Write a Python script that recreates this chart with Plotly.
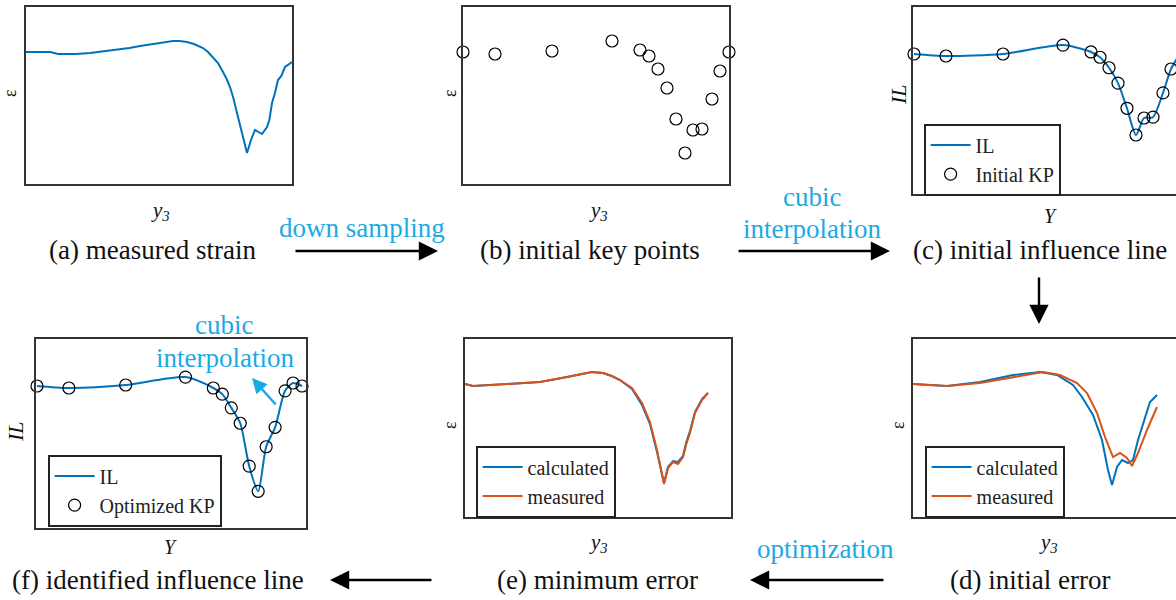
import plotly.graph_objects as go

W, H = 1176, 600
BLUE = "#0072BD"
ORANGE = "#D95319"
CYAN = "rgb(26,170,228)"
SERIF = "Liberation Serif, Times New Roman, serif"

# ---------------- data ----------------
# (a) measured strain
a_x = [0, 3.6, 4.8, 7.5, 9.6, 12, 13.65, 15.5, 17.1, 19.5, 21, 22.05, 23, 24.15, 25.2,
       26.55, 27.3, 28.05, 28.8, 29.55, 30.1, 30.6, 31.1, 31.65, 32.1, 32.55, 33.15,
       33.75, 34.35, 34.9, 35.4, 36.15, 36.5, 36.9, 37.3, 37.8, 38.3, 38.85, 39.9]
a_eps = [0, 0, -2, -2, -1, 1, 2, 4, 6, 8.5, 10.5, 11, 11, 10, 8,
         4, 0, -5, -11, -20, -27, -35, -46, -61, -72, -85, -101,
         -88, -78, -80, -82, -75, -68, -51, -42, -28, -24, -15, -10]

# key point positions (shared by b, c, f)
kp_x = [0, 4.8, 13.35, 22.35, 26.55, 27.9, 29.25, 30.6, 31.95, 33.3, 34.5, 35.85, 37.35, 38.55, 39.9]
# (b) initial key points (strain)
b_eps = [0, -2, 1, 11, 2, -4, -17, -36, -67, -101, -78, -77, -47, -19, 0]
# (c) initial key points (IL)
c_il = [0, -0.025, 0, 0.11, 0.025, -0.04, -0.17, -0.36, -0.67, -1.0, -0.79, -0.78, -0.48, -0.185, 0]
# (f) optimized key points (IL)
f_il = [0, -0.025, 0.012, 0.11, -0.025, -0.1, -0.27, -0.46, -0.99, -1.30, -0.75, -0.51, -0.06, 0.037, 0]

# (e) minimum error
e_x = [0, 1.2, 6.3, 11.25, 15.3, 17.5, 19.05, 20.7, 22, 23.25, 25.05, 26.55, 27.75, 28.8,
       29.85, 30.45, 31.2, 31.95, 32.7, 33.2, 33.75, 34.5, 35.55, 36.45]
e_meas = [0, -2, 0, 2, 7, 10, 12, 11, 8, 4, -4, -19, -38, -66,
          -100, -84, -78, -80, -73, -60, -49, -29, -16, -9]
e_calc = [0, -2, 0, 2, 7, 10, 12, 11, 8, 4, -5, -21, -40, -68,
          -99, -83, -77, -78, -72, -58, -47, -28, -15, -9]

# (d) initial error
d_meas_x = [0, 5.1, 10.05, 15, 19.5, 22.05, 24.6, 26.1, 27.6, 28.8, 30, 31.05,
            32.1, 32.85, 33.75, 35.1, 36.6]
d_meas = [0, -2, 1, 7, 12, 9, 1, -9, -29, -53, -73, -69, -74, -82, -69, -46, -23]
d_calc_x = [0, 5.1, 10.05, 15, 19.05, 21.6, 24, 25.35, 27, 28.35, 29.25, 29.85,
            30.6, 31.35, 32.25, 33, 33.75, 34.8, 35.55, 36.6]
d_calc = [0, -2, 2, 9, 12, 9, -1, -13, -31, -56, -86, -101, -83, -76, -79, -76,
          -56, -33, -18, -11]

# ---------------- layout helpers ----------------
def px_dom_x(l, r):
    return [l / W, min(r / W, 1.0)]

def px_dom_y(t, b):
    return [1 - b / H, 1 - t / H]

def px(x):
    return x / W

def py(y):
    return 1 - y / H

fig = go.Figure()

panels = [
    ("a", 26, 292, 7, 184, [0, 39.9], [-132, 45], True),
    ("b", 463, 729, 7, 184, [0, 39.9], [-132, 45], True),
    ("c", 913, 1176, 7, 194, [-0.15, 39.3], [-1.728, 0.58], False),
    ("f", 36, 306, 339, 528, [-0.15, 40.5], [-1.753, 0.58], True),
    ("e", 465, 731, 339, 517, [0, 39.9], [-133, 45], True),
    ("d", 913, 1176, 339, 517, [0, 39.45], [-133, 45], False),
]
axis_ids = {}
for i, (name, xl, xr, yt, yb, xr_, yr_, right) in enumerate(panels):
    n = "" if i == 0 else str(i + 1)
    axis_ids[name] = ("x" + n, "y" + n)
    common = dict(showticklabels=False, ticks="", showgrid=False, zeroline=False,
                  showline=True, linecolor="#333333", linewidth=1.6, fixedrange=True)
    fig.update_layout(**{
        "xaxis" + n: dict(domain=px_dom_x(xl, xr), range=xr_, anchor="y" + n,
                          mirror=True, **common),
        "yaxis" + n: dict(domain=px_dom_y(yt, yb), range=yr_, anchor="x" + n,
                          mirror=right, **common),
    })

def add(trace, panel):
    xa, ya = axis_ids[panel]
    trace.update(xaxis=xa, yaxis=ya)
    fig.add_trace(trace)

circ = dict(symbol="circle-open", size=12, color="black", line=dict(width=1.2, color="black"))

add(go.Scatter(x=a_x, y=a_eps, mode="lines", line=dict(color=BLUE, width=2),
               showlegend=False), "a")
add(go.Scatter(x=kp_x, y=b_eps, mode="markers", marker=circ, cliponaxis=False,
               showlegend=False), "b")
add(go.Scatter(x=kp_x, y=c_il, mode="lines", name="IL",
               line=dict(color=BLUE, width=2, shape="spline", smoothing=0.7),
               legend="legend"), "c")
add(go.Scatter(x=kp_x, y=c_il, mode="markers", name="Initial KP", marker=circ,
               cliponaxis=False, legend="legend"), "c")
add(go.Scatter(x=kp_x, y=f_il, mode="lines", name="IL",
               line=dict(color=BLUE, width=2, shape="spline", smoothing=0.7),
               legend="legend2"), "f")
add(go.Scatter(x=kp_x, y=f_il, mode="markers", name="Optimized KP", marker=circ,
               cliponaxis=False, legend="legend2"), "f")
add(go.Scatter(x=e_x, y=e_calc, mode="lines", name="calculated",
               line=dict(color=BLUE, width=2), legend="legend3"), "e")
add(go.Scatter(x=e_x, y=e_meas, mode="lines", name="measured",
               line=dict(color=ORANGE, width=2), legend="legend3"), "e")
add(go.Scatter(x=d_calc_x, y=d_calc, mode="lines", name="calculated",
               line=dict(color=BLUE, width=2), legend="legend4"), "d")
add(go.Scatter(x=d_meas_x, y=d_meas, mode="lines", name="measured",
               line=dict(color=ORANGE, width=2), legend="legend4"), "d")

def leg(x, y):
    return dict(x=px(x), y=py(y), xanchor="left", yanchor="top",
                bgcolor="white", bordercolor="#222222", borderwidth=1.6,
                font=dict(family=SERIF, size=20, color="#222"),
                tracegroupgap=0, itemwidth=40)

fig.update_layout(legend=leg(924, 124), legend2=leg(48, 455),
                  legend3=leg(476, 446), legend4=leg(925, 446))

ann = []
def text(x, y, s, size=27, color="#111", angle=0):
    ann.append(dict(x=px(x), y=py(y), xref="paper", yref="paper", text=s,
                    showarrow=False, textangle=angle,
                    font=dict(family=SERIF, size=size, color=color),
                    xanchor="center", yanchor="middle"))

def arrow(x0, y0, x1, y1, color="black", width=2.4, size=1.6, head=2):
    ann.append(dict(x=px(x1), y=py(y1), xref="paper", yref="paper",
                    ax=x0 - x1, ay=y0 - y1, axref="pixel", ayref="pixel",
                    text="", showarrow=True, arrowhead=head, arrowsize=size,
                    arrowwidth=width, arrowcolor=color, standoff=0, startstandoff=0))

# captions
text(152, 250, "(a) measured strain")
text(590, 250, "(b) initial key points")
text(1040, 250, "(c) initial influence line")
text(158, 580, "(f) identified influence line")
text(597, 580, "(e) minimum error")
text(1030, 580, "(d) initial error")

# axis labels
Y3 = "<i>y<sub>3</sub></i>"
text(160, 211, Y3, size=21)
text(598, 211, Y3, size=21)
text(1050, 216, "<i>Y</i>", size=20)
text(170, 547, "<i>Y</i>", size=20)
text(598, 543, Y3, size=21)
text(1048, 543, Y3, size=21)
text(10, 93, "ε", size=18, angle=-90)
text(450, 93, "ε", size=18, angle=-90)
text(898, 95, "<i>IL</i>", size=22, angle=-90)
text(15, 432, "<i>IL</i>", size=22, angle=-90)
text(450, 425, "ε", size=18, angle=-90)
text(898, 425, "ε", size=18, angle=-90)

# process labels
text(362, 228, "down sampling", color=CYAN)
text(812, 197, "cubic", color=CYAN)
text(812, 229, "interpolation", color=CYAN)
text(825, 549, "optimization", color=CYAN)
text(224, 325, "cubic", color=CYAN)
text(225, 358, "interpolation", color=CYAN)

# arrows
arrow(294, 251, 438, 251)
arrow(737, 251, 890, 251)
arrow(1039, 276, 1039, 324)
arrow(885, 580, 750, 580)
arrow(433, 580, 330, 580)
arrow(277, 406, 252, 378, color=CYAN, width=2.5, size=1.2, head=2)

fig.update_layout(annotations=ann, width=W, height=H,
                  margin=dict(l=0, r=0, t=0, b=0),
                  paper_bgcolor="white", plot_bgcolor="white",
                  showlegend=True)

fig.write_html("out.html")
